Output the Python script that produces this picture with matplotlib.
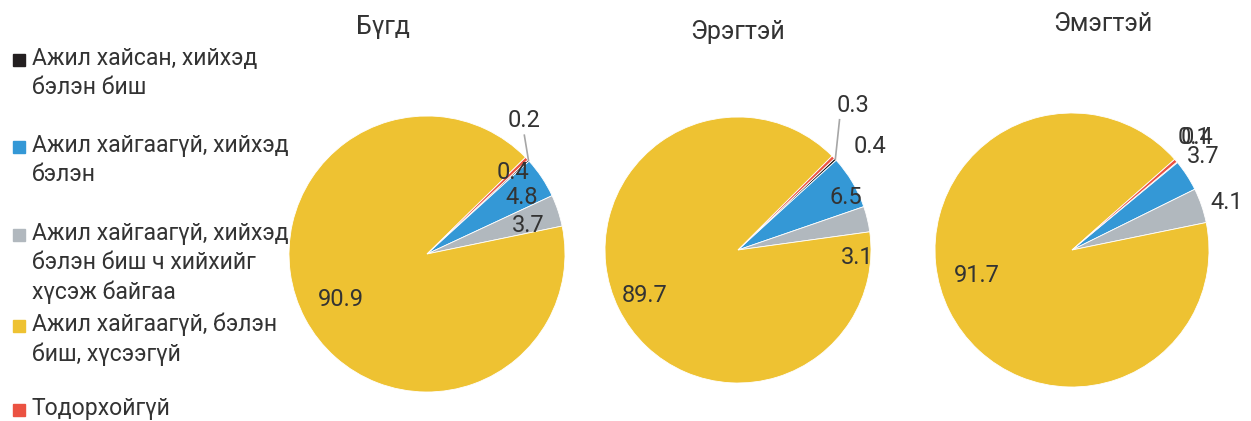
import matplotlib
matplotlib.use("Agg")
import matplotlib.pyplot as plt
import numpy as np
from matplotlib.patches import Rectangle

plt.rcParams['font.family'] = ['Roboto', 'DejaVu Sans']

categories = ["Ажил хайсан, хийхэд\nбэлэн биш",
              "Ажил хайгаагүй, хийхэд\nбэлэн",
              "Ажил хайгаагүй, хийхэд\nбэлэн биш ч хийхийг\nхүсэж байгаа",
              "Ажил хайгаагүй, бэлэн\nбиш, хүсээгүй",
              "Тодорхойгүй"]
colors = ["#231f20", "#3498d6", "#b1b8be", "#eec232", "#eb5242"]

titles = ["Бүгд", "Эрэгтэй", "Эмэгтэй"]
all_vals = [0.2, 4.8, 3.7, 90.9, 0.4]
male_vals = [0.3, 6.5, 3.1, 89.7, 0.4]
female_vals = [0.1, 3.7, 4.1, 91.7, 0.4]
series = [all_vals, male_vals, female_vals]

W, H = 1251, 421
fig = plt.figure(figsize=(W / 100, H / 100), dpi=100)

# pie layout in pixels: center x, center y, radius, start angle
pies = [(427, 254, 138, 43), (738, 250, 133, 43.5), (1072, 250, 137, 40)]
title_pos = [(383, 27), (738, 32), (1103, 24)]
# label placement: (radius factor, angle) per slice
label_pos = [
    [(1.20, 54), (0.80, 30.5), (0.76, 15.5), (0.71, 208), (0.86, 43.6)],
    [(1.39, 51.6), (0.90, 26), (0.90, -3.8), (0.78, 206), (1.26, 38)],
    [(1.21, 42.8), (1.18, 35.5), (1.18, 17), (0.72, 195), (1.23, 42.1)],
]
leader = [True, False, False, False, False]
txt_col = "#333333"

for k, vals in enumerate(series):
    cx, cy, r, start = pies[k]
    ax = fig.add_axes([(cx - r) / W, (H - cy - r) / H, 2 * r / W, 2 * r / H])
    wedges, _ = ax.pie(vals, colors=colors, startangle=start, counterclock=False,
                       wedgeprops=dict(edgecolor="white", linewidth=0.6))
    ax.set_xlim(-1, 1)
    ax.set_ylim(-1, 1)
    ax.set_aspect("equal")
    for w in wedges:
        w.set_clip_on(False)
    for i, v in enumerate(vals):
        rf, ang = label_pos[k][i]
        tx, ty = rf * np.cos(np.radians(ang)), rf * np.sin(np.radians(ang))
        ax.text(tx, ty, f"{v:.1f}", ha="center", va="center", fontsize=17,
                color=txt_col)
        if leader[i] and k < 2:
            w = wedges[i]
            mid = np.radians((w.theta1 + w.theta2) / 2)
            ax.plot([np.cos(mid), tx - (0.0 if k == 0 else 0.1)],
                    [np.sin(mid), ty - 0.11], color="#a6a6a6", lw=1.2,
                    clip_on=False)
    fig.text(title_pos[k][0] / W, 1 - title_pos[k][1] / H, titles[k],
             ha="center", va="center", fontsize=18, color=txt_col)

# legend drawn by hand
leg_y = [60, 147, 235, 326, 410]
for i, lab in enumerate(categories):
    y = leg_y[i]
    fig.patches.append(Rectangle((13 / W, 1 - (y + 6) / H), 12 / W, 12 / H,
                                 transform=fig.transFigure, color=colors[i]))
    fig.text(32 / W, 1 - (y - 13) / H, lab, ha="left", va="top", fontsize=16.6,
             color=txt_col, linespacing=1.35)

fig.savefig("out.png", dpi=100)
